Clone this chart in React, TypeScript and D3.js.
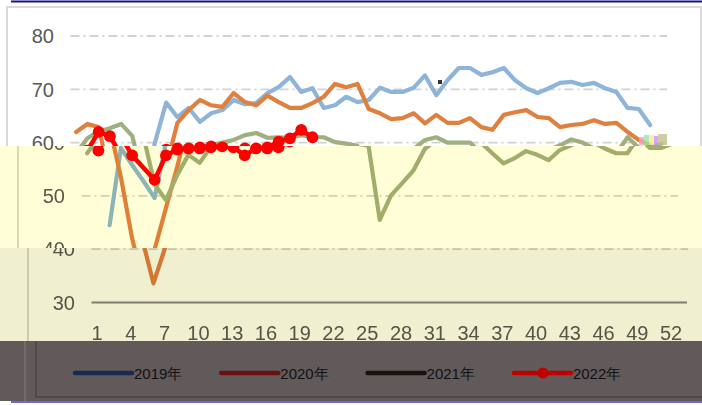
import React, { useEffect, useRef } from 'react';
import * as d3 from 'd3';

// week categories on the x axis (53 slots, labels every 3rd week)
const weeks = [
  1, 2, 3, 4, 5, 6, 7, 8, 9, 10, 11, 12, 13, 14, 15, 16, 17, 18, 19, 20,
  21, 22, 23, 24, 25, 26, 27, 28, 29, 30, 31, 32, 33, 34, 35, 36, 37, 38, 39, 40,
  41, 42, 43, 44, 45, 46, 47, 48, 49, 50, 51, 52, 53
];
const tickWeeks = [1, 4, 7, 10, 13, 16, 19, 22, 25, 28, 31, 34, 37, 40, 43, 46, 49, 52];
const yTicks = [30, 40, 50, 60, 70, 80];

const values2019 = [
  null, null, 44.5, 59, 55.8, 52.8, 49.6, 60, 67.5, 64.8, 66.5, 63.9, 65.5, 66.1, 68, 67.2, 67.4,
  69.3, 70.4, 72.3, 69.5, 70.2, 66.5, 67, 68.6, 67.6, 68, 70.3, 69.5, 69.5, 70.3, 72.6, 68.9,
  71.7, 74, 74, 72.7, 73.2, 74, 71.7, 70.2, 69.3, 70.2, 71.2, 71.4, 70.8, 71.2, 70.2, 69.5,
  66.5, 66.3, 63.3
];
const values2020 = [
  62, 63.5, 62.9, 53.5, 42, 33.6, 40, 47.7, 55.4, 63.7, 66.1, 68, 67, 66.7, 69.3, 67.6, 67,
  68.8, 67.6, 66.5, 66.5, 67.4, 68.6, 71, 70.4, 71, 66.3, 65.5, 64.4, 64.6, 65.5, 63.6, 65.2,
  63.7, 63.7, 64.6, 62.9, 62.4, 65.2, 65.7, 66.1, 64.8, 64.6, 62.9, 63.3, 63.5, 64.2, 63.5,
  63.7, 62, 60.5, 59.5
];
const values2021 = [
  58, 60.8, 62.1, 62.7, 63.5, 61.2, 52.2, 49.2, 53.9, 57.7, 56.2, 59.2, 59.5, 60, 60.5, 61.4,
  61.8, 60.9, 61, 60.9, 61.4, 61, 61, 60.1, 59.8, 59.4, 45.5, 50.1, 52.4, 54.8, 58.8, 60.5,
  61, 60, 60, 60, 58, 56.1, 57.1, 58.4, 57.7, 56.7, 58.6, 59.5, 60.6, 60, 58.9, 58, 58, 61,
  59, 59, 59.8
];
const values2022 = [
  null, 58.5, 62, 61.2, 57.6, null, 53, 57.6, 58.7, 58.9, 58.9, 59.1, 59.3, 59.1, 57.6, 58.9,
  58.9, 59.1, 60.2, 60.8, 62.4, 61
];

const seriesNames = ['2019年', '2020年', '2021年', '2022年'];
const lineColors = ['#8eb4da', '#e0803f', '#a0ae80', '#ff0000'];
const legendColors = ['#152a4e', '#6b1010', '#16120c', '#c00000'];

const W = 702;
const H = 405;
const FONT = "'Liberation Sans', Arial, sans-serif";

type Pt = { w: number; v: number | null };

function App() {
  const svgRef = useRef<SVGSVGElement>(null);

  useEffect(() => {
    const svg = d3.select(svgRef.current);
    svg.selectAll('*').remove();

    const x = d3.scaleBand<number>().domain(weeks).range([70.5, 667]).paddingInner(0);
    const xc = (w: number) => (x(w) as number) + x.bandwidth() / 2;
    const y = d3.scaleLinear().domain([30, 80]).range([302.5, 36]);

    const allSeries = [values2019, values2020, values2021, values2022].map(vals =>
      vals.map((v, i) => ({ w: weeks[i], v }))
    );

    const line = d3.line<Pt>()
      .x(d => xc(d.w))
      .y(d => y(d.v as number))
      .curve(d3.curveLinear);

    // the whole plot, drawn once per horizontal strip; texts only where the strip shows them
    const drawPlot = (g: any, y0: number, y1: number) => {
      g.append('rect')
        .attr('x', 7).attr('y', 7).attr('width', 694).attr('height', 420)
        .attr('fill', 'none').attr('stroke', '#d9d9d9').attr('stroke-width', 2);

      g.selectAll('.grid')
        .data(yTicks.filter(t => t > 30))
        .enter().append('line')
        .attr('x1', 70.5).attr('x2', 667)
        .attr('y1', d => y(d)).attr('y2', d => y(d))
        .attr('stroke', '#d2d2d2').attr('stroke-width', 1.8)
        .attr('stroke-dasharray', '9,4,2,4');

      g.append('line')
        .attr('x1', 70.5).attr('x2', 666)
        .attr('y1', y(30)).attr('y2', y(30))
        .attr('stroke', '#868686').attr('stroke-width', 2);

      g.selectAll('.ylab')
        .data(yTicks.filter(t => y(t) + 8 > y0 && y(t) - 8 < y1))
        .enter().append('text')
        .attr('x', 54).attr('y', d => y(d))
        .attr('dy', '0.36em')
        .attr('text-anchor', 'end')
        .attr('font-family', FONT).attr('font-size', 20)
        .attr('fill', '#595959')
        .text(d => d);

      if (y1 > 320) {
        g.selectAll('.xlab')
          .data(tickWeeks)
          .enter().append('text')
          .attr('x', d => xc(d)).attr('y', 340)
          .attr('text-anchor', 'middle')
          .attr('font-family', FONT).attr('font-size', 20)
          .attr('fill', '#595959')
          .text(d => d);
      }

      allSeries.forEach((pts, i) => {
        const defined = pts.filter(p => p.v !== null);
        g.append('path')
          .attr('d', line(defined))
          .attr('fill', 'none')
          .attr('stroke', lineColors[i])
          .attr('stroke-width', i === 3 ? 4.5 : 4.2)
          .attr('stroke-linejoin', 'round')
          .attr('stroke-linecap', 'round');
      });

      g.selectAll('.dot')
        .data(allSeries[3].filter(p => p.v !== null))
        .enter().append('circle')
        .attr('cx', d => xc(d.w)).attr('cy', d => y(d.v as number))
        .attr('r', 5.9)
        .attr('fill', lineColors[3]);
    };

    svg.append('rect').attr('width', W).attr('height', H).attr('fill', '#ffffff');

    // strips: top is clean, the two lower strips are shifted and tinted
    const strips = [
      { id: 'stripTop', y0: 0, y1: 146, dx: 0, tint: null },
      { id: 'stripMid', y0: 146, y1: 248, dx: 11, tint: '#fffed6' },
      { id: 'stripLow', y0: 248, y1: 341, dx: 21, tint: '#f0efcf' }
    ];
    const defs = svg.append('defs');
    strips.forEach(s => {
      defs.append('clipPath').attr('id', s.id)
        .append('rect').attr('x', 0).attr('y', s.y0).attr('width', W).attr('height', s.y1 - s.y0);
      const sg = svg.append('g').attr('clip-path', `url(#${s.id})`);
      sg.append('rect').attr('x', 0).attr('y', s.y0).attr('width', W).attr('height', s.y1 - s.y0)
        .attr('fill', '#ffffff');
      drawPlot(sg.append('g').attr('transform', `translate(${s.dx},0)`), s.y0, s.y1);
      if (s.tint) {
        sg.append('rect').attr('x', 0).attr('y', s.y0).attr('width', W).attr('height', s.y1 - s.y0)
          .attr('fill', s.tint).style('mix-blend-mode', 'multiply');
      }
    });

    // stray artefacts in the picture
    svg.append('rect').attr('x', 438).attr('y', 80).attr('width', 4).attr('height', 4).attr('fill', '#333');
    const glitch = [
      ['#ff9ad0', 639, 137, 5, 8], ['#9fe39f', 644, 135, 5, 10], ['#f3f08a', 649, 135, 5, 10],
      ['#d38cff', 654, 136, 4, 9], ['#c2c08e', 658, 134, 9, 11]
    ];
    glitch.forEach(([c, gx, gy, gw, gh]) => {
      svg.append('rect').attr('x', gx).attr('y', gy).attr('width', gw).attr('height', gh)
        .attr('fill', c as string).attr('opacity', 0.8);
    });

    // top navy rule
    svg.append('rect').attr('x', 11).attr('y', 0.5).attr('width', W - 11).attr('height', 2).attr('fill', '#14148c');

    // dark legend strip
    svg.append('rect').attr('x', 0).attr('y', 341).attr('width', W).attr('height', 60).attr('fill', '#625a5a');
    svg.append('path').attr('d', `M36,341V397H${W}`)
      .attr('fill', 'none').attr('stroke', '#4b4444').attr('stroke-width', 1.5);
    svg.append('line').attr('x1', 25).attr('x2', 25).attr('y1', 341).attr('y2', 401)
      .attr('stroke', '#7a7070').attr('stroke-width', 1.5);
    svg.append('rect').attr('x', 11).attr('y', 401).attr('width', W - 11).attr('height', 2).attr('fill', '#6a6bcc');

    const legend = svg.append('g');
    seriesNames.forEach((name, i) => {
      const lx = 75 + i * 146.3;
      legend.append('line')
        .attr('x1', lx).attr('x2', lx + 57).attr('y1', 373).attr('y2', 373)
        .attr('stroke', legendColors[i]).attr('stroke-width', 4.5).attr('stroke-linecap', 'round');
      if (i === 3) {
        legend.append('circle').attr('cx', lx + 29).attr('cy', 373).attr('r', 5.5).attr('fill', legendColors[i]);
      }
      legend.append('text')
        .attr('x', lx + 59).attr('y', 378.5)
        .attr('font-family', FONT).attr('font-size', 15)
        .attr('fill', '#111111')
        .text(name);
    });
  }, []);

  return (
    <div style={{ position: 'fixed', left: 0, top: 0, width: W, height: H }}>
      <svg ref={svgRef} width={W} height={H} style={{ display: 'block' }}></svg>
    </div>
  );
}

export default App;
